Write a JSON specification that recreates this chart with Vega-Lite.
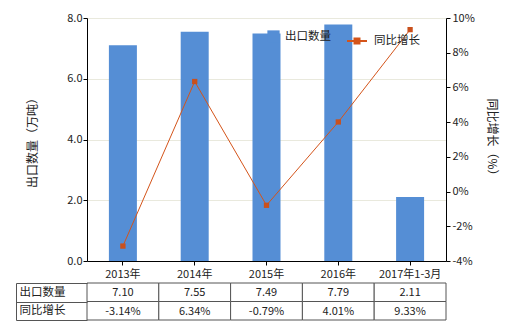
{
  "$schema": "https://vega.github.io/schema/vega-lite/v6.json",
  "padding": {"left": 15, "top": 12, "right": 5, "bottom": 5},
  "background": "white",
  "config": {
    "font": "Noto Sans CJK SC",
    "view": {"stroke": null},
    "axis": {"labelFont": "Noto Sans CJK SC", "labelFontSize": 11, "labelColor": "#222", "titleFont": "Noto Sans CJK SC", "titleFontSize": 12, "titleFontWeight": "normal", "titleColor": "#222", "domainColor": "#000", "tickColor": "#000"},
    "legend": {"labelFont": "Noto Sans CJK SC", "labelFontSize": 11.5, "labelColor": "#222", "padding": 0},
    "locale": {"number": {"decimal": ".", "thousands": ",", "grouping": [3], "currency": ["", ""], "minus": "-"}},
    "concat": {"spacing": -2}
  },
  "datasets": {
    "main": [
      {"cat": "2013年", "qty": 7.10, "yoy": -0.0314},
      {"cat": "2014年", "qty": 7.55, "yoy": 0.0634},
      {"cat": "2015年", "qty": 7.49, "yoy": -0.0079},
      {"cat": "2016年", "qty": 7.79, "yoy": 0.0401},
      {"cat": "2017年1-3月", "qty": 2.11, "yoy": 0.0933}
    ],
    "table": [
      {"cat": "2013年", "row": "出口数量", "text": "7.10"},
      {"cat": "2014年", "row": "出口数量", "text": "7.55"},
      {"cat": "2015年", "row": "出口数量", "text": "7.49"},
      {"cat": "2016年", "row": "出口数量", "text": "7.79"},
      {"cat": "2017年1-3月", "row": "出口数量", "text": "2.11"},
      {"cat": "2013年", "row": "同比增长", "text": "-3.14%"},
      {"cat": "2014年", "row": "同比增长", "text": "6.34%"},
      {"cat": "2015年", "row": "同比增长", "text": "-0.79%"},
      {"cat": "2016年", "row": "同比增长", "text": "4.01%"},
      {"cat": "2017年1-3月", "row": "同比增长", "text": "9.33%"}
    ]
  },
  "vconcat": [
    {
      "width": 359,
      "height": 243,
      "data": {"name": "main"},
      "encoding": {
        "x": {"field": "cat", "type": "nominal", "sort": null,
          "scale": {"paddingInner": 0, "paddingOuter": 0},
          "axis": {"title": null, "labelAngle": 0, "tickSize": 4, "labelPadding": 3}}
      },
      "layer": [
        {
          "mark": {"type": "bar", "width": {"band": 0.39}},
          "encoding": {
            "y": {"field": "qty", "type": "quantitative", "scale": {"domain": [0, 8]},
              "axis": {"title": "出口数量（万吨）", "format": ".1f", "values": [0, 2, 4, 6, 8], "grid": true, "gridColor": "#e9e9dd", "tickSize": 4, "labelPadding": 1, "titlePadding": 27}},
            "fill": {"datum": "出口数量", "type": "nominal", "scale": {"range": ["#558ED5"]},
              "legend": {"title": null, "orient": "none", "legendX": 180, "legendY": 12, "symbolType": "square", "symbolSize": 150, "symbolStrokeWidth": 0, "labelOffset": 5}}
          }
        },
        {
          "encoding": {
            "y": {"field": "yoy", "type": "quantitative", "scale": {"domain": [-0.04, 0.10]},
              "axis": {"orient": "right", "title": "同比增长（%）", "format": ".0%", "values": [-0.04, -0.02, 0, 0.02, 0.04, 0.06, 0.08, 0.1], "labelOverlap": false, "grid": false, "tickSize": 4, "labelPadding": 2, "titlePadding": 10}}
          },
          "layer": [
            {
              "mark": {"type": "line", "strokeWidth": 1},
              "encoding": {
                "stroke": {"datum": "同比增长", "type": "nominal", "scale": {"range": ["#D4541A"]},
                  "legend": {"title": null, "orient": "none", "legendX": 259, "legendY": 12, "symbolType": "M-1,0L1,0M-0.25,-0.25h0.5v0.5h-0.5z", "symbolSize": 400, "symbolStrokeWidth": 2, "symbolFillColor": "#D4541A", "symbolStrokeColor": "#D4541A", "labelOffset": 6}}
              }
            },
            {
              "mark": {"type": "square", "size": 28, "color": "#C9501C", "filled": true, "opacity": 1}
            }
          ]
        }
      ],
      "resolve": {"scale": {"y": "independent", "fill": "independent", "stroke": "independent"}}
    },
    {
      "width": 359,
      "height": 37,
      "data": {"name": "table"},
      "encoding": {
        "x": {"field": "cat", "type": "nominal", "sort": ["2013年", "2014年", "2015年", "2016年", "2017年1-3月"],
          "scale": {"paddingInner": 0, "paddingOuter": 0}, "axis": null},
        "y": {"field": "row", "type": "nominal", "sort": ["出口数量", "同比增长"],
          "scale": {"paddingInner": 0, "paddingOuter": 0},
          "axis": {"title": null, "orient": "left", "offset": 71, "tickBand": "extent", "tickSize": -71, "labelPadding": 68, "labelAlign": "left", "labelFontSize": 11.5, "domainColor": "#555", "tickColor": "#555", "labelColor": "#222"}}
      },
      "layer": [
        {"mark": {"type": "rect", "fill": "white", "stroke": "#555", "strokeWidth": 1}},
        {"mark": {"type": "text", "fontSize": 11, "color": "#222", "dy": 1}, "encoding": {"text": {"field": "text"}}}
      ]
    }
  ]
}
